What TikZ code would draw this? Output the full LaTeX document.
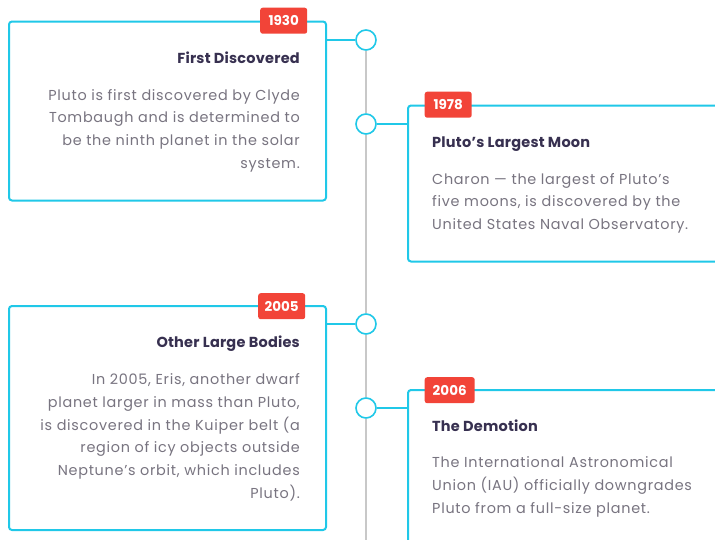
\documentclass[tikz,border=0pt]{standalone}
\usepackage{fontspec}
\setmainfont{Poppins}
\newfontfamily\tlbodyfont[LetterSpace=5]{Poppins}
\newfontfamily\tltitlefont[LetterSpace=1.5]{Poppins}
\definecolor{tlcyan}{RGB}{32,200,232}
\definecolor{tlred}{RGB}{242,68,56}
\definecolor{tltitle}{RGB}{55,48,80}
\definecolor{tlbody}{RGB}{120,116,128}
\definecolor{tlgray}{RGB}{200,200,200}
\tikzset{
  card/.style={draw=tlcyan, line width=2pt, fill=white, rounded corners=3pt, inner sep=0pt, anchor=north west},
  badge/.style={fill=tlred, rounded corners=2.5pt, text=white, font=\fontsize{13.5}{15}\selectfont\bfseries, minimum width=47pt, minimum height=26pt, inner sep=0pt, anchor=north west},
  dot/.style={circle, draw=tlcyan, line width=1.6pt, fill=white, minimum size=20pt, inner sep=0pt},
  link/.style={draw=tlcyan, line width=1.6pt},
  spine/.style={draw=tlgray, line width=2pt},
  ttl/.style={text=tltitle, font=\tltitlefont\fontsize{14.5}{17}\selectfont\bfseries, inner sep=0pt},
  bodyR/.style={text=tlbody, font=\tlbodyfont\fontsize{14.4}{22.8}\selectfont, align=right, inner sep=0pt, anchor=north east},
  bodyL/.style={text=tlbody, font=\tlbodyfont\fontsize{14.4}{22.8}\selectfont, align=left, inner sep=0pt, anchor=north west}
}
\begin{document}
\begin{tikzpicture}[x=1pt,y=-1pt]
\useasboundingbox[fill=white] (0,0) rectangle (715,539);
% dots
\coordinate (spineend) at (366,560);
\node[dot] (c1) at (366,40) {};
\node[dot] (c2) at (366,124) {};
\node[dot] (c3) at (366,324) {};
\node[dot] (c4) at (366,408) {};
\path[spine] (c1.south) -- (c2.north) (c2.south) -- (c3.north) (c3.south) -- (c4.north) (c4.south) -- (spineend);
% cards
\node[card, minimum width=317pt, minimum height=179pt] (b1) at (8,20.5) {};
\node[card, minimum width=330pt, minimum height=156pt] (b2) at (407,104.5) {};
\node[card, minimum width=317pt, minimum height=224pt] (b3) at (8,305) {};
\node[card, minimum width=330pt, minimum height=200pt] (b4) at (407,389) {};
% connectors
\path[link] (c1.west) -- (c1.west -| b1.east);
\path[link] (c2.east) -- (c2.east -| b2.west);
\path[link] (c3.west) -- (c3.west -| b3.east);
\path[link] (c4.east) -- (c4.east -| b4.west);
% badges
\node[badge] (y1) at (260,7.5) {1930};
\node[badge] (y2) at (424.5,91.5) {1978};
\node[badge] (y3) at (258,293) {2005};
\node[badge, minimum width=50pt] (y4) at (424.5,377) {2006};
% titles
\node[ttl, anchor=base east] (t1) at (300,63) {First Discovered};
\node[ttl, anchor=base west] (t2) at (432,147.5) {Pluto’s Largest Moon};
\node[ttl, anchor=base east] (t3) at (300,347.5) {Other Large Bodies};
\node[ttl, anchor=base west] (t4) at (432,431.5) {The Demotion};
% bodies
\node[bodyR] (p1) at (300,84) {\strut Pluto is first discovered by Clyde\\Tombaugh and is determined to\\be the ninth planet in the solar\\system.};
\node[bodyL] (p2) at (432,168) {\strut Charon — the largest of Pluto’s\\five moons, is discovered by the\\United States Naval Observatory.};
\node[bodyR] (p3) at (300,368.3) {\strut In 2005, Eris, another dwarf\\planet larger in mass than Pluto,\\is discovered in the Kuiper belt (a\\region of icy objects outside\\Neptune’s orbit, which includes\\Pluto).};
\node[bodyL] (p4) at (432,451.7) {\strut The International Astronomical\\Union (IAU) officially downgrades\\Pluto from a full-size planet.};
\end{tikzpicture}
\end{document}
